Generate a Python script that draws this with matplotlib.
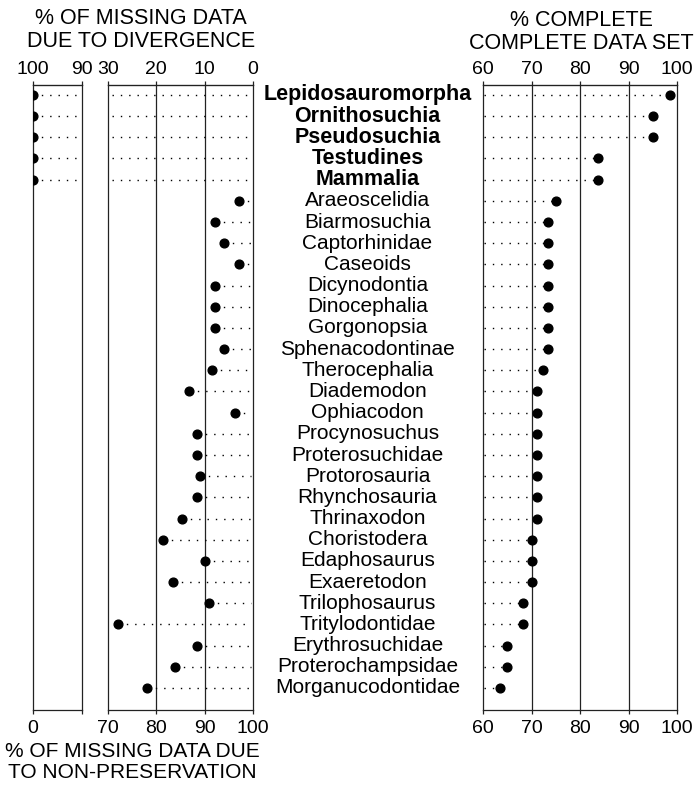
import numpy as np
import matplotlib
matplotlib.use('Agg')
import matplotlib.pyplot as plt
from matplotlib.transforms import blended_transform_factory

plt.rcParams['font.family'] = ['Liberation Sans', 'DejaVu Sans']

taxa = ['Lepidosauromorpha', 'Ornithosuchia', 'Pseudosuchia', 'Testudines', 'Mammalia',
        'Araeoscelidia', 'Biarmosuchia', 'Captorhinidae', 'Caseoids', 'Dicynodontia',
        'Dinocephalia', 'Gorgonopsia', 'Sphenacodontinae', 'Therocephalia', 'Diademodon',
        'Ophiacodon', 'Procynosuchus', 'Proterosuchidae', 'Protorosauria', 'Rhynchosauria',
        'Thrinaxodon', 'Choristodera', 'Edaphosaurus', 'Exaeretodon', 'Trilophosaurus',
        'Tritylodontidae', 'Erythrosuchidae', 'Proterochampsidae', 'Morganucodontidae']
n_bold = 5

# % missing due to divergence for the living groups (left panel)
divergence = [100, 100, 100, 100, 100]

# % missing due to non-preservation for the fossil groups (middle panel)
nonpres = [97.0, 92.1, 94.0, 97.0, 92.1, 92.1, 92.1, 94.1, 91.5, 86.8, 96.3, 88.4,
           88.4, 89.0, 88.4, 85.3, 81.4, 90.1, 83.4, 90.9, 72.1, 88.5, 83.8, 78.1]

# % complete relative to complete data set (right panel)
complete = [98.5, 95.1, 95.1, 83.7, 83.7, 75.0, 73.4, 73.4, 73.4, 73.4, 73.4, 73.4,
            73.4, 72.3, 71.2, 71.2, 71.2, 71.2, 71.2, 71.2, 71.2, 70.1, 70.1, 70.1,
            68.2, 68.2, 64.9, 64.9, 63.6]

W, H = 695, 785
fig = plt.figure(figsize=(W / 100, H / 100), dpi=100)

def rect(x0, x1, ytop=85, ybot=710):
    return [x0 / W, (H - ybot) / H, (x1 - x0) / W, (ybot - ytop) / H]

axL = fig.add_axes(rect(33, 82))
axM = fig.add_axes(rect(108, 253))
axR = fig.add_axes(rect(483, 677))

rows = np.arange(len(taxa))
ylim = (len(taxa) - 1 + 1.04, -0.47)
dots = dict(color='black', lw=1.0, linestyle=(0, (1, 5)))
mk = dict(marker='o', ms=6.3, color='black', ls='none', zorder=5)
tick_kw = dict(labelsize=14, length=3, width=0.9, color='#222222')

for ax in (axL, axM, axR):
    ax.set_ylim(*ylim)
    ax.set_yticks([])
    for s in ax.spines.values():
        s.set_linewidth(0.9)
        s.set_color('#222222')
    ax.tick_params(axis='x', which='both', pad=4, **tick_kw)

# left panel: divergence 100..90 on top, 0 on bottom
axL.set_xlim(100, 90)
axL.set_xticks([100, 90])
axL.set_xticklabels(['0', ''])
axT = axL.secondary_xaxis('top')
axT.set_xticks([100, 90])
axT.set_xticklabels(['100', '90'])
axT.tick_params(pad=2, **tick_kw)
for i in range(n_bold):
    axL.plot([divergence[i], 91], [i, i], **dots)
axL.plot(divergence, rows[:n_bold], **mk)

# middle panel: non-preservation 70..100 on bottom, 30..0 on top
axM.set_xlim(70, 100)
axM.set_xticks([70, 80, 90, 100])
topM = axM.secondary_xaxis('top', functions=(lambda v: 100 - v, lambda v: 100 - v))
topM.set_xticks([30, 20, 10, 0])
topM.tick_params(pad=2, **tick_kw)
for g in (80, 90):
    axM.axvline(g, color='#222222', lw=0.9)
for i in range(n_bold):
    axM.plot([70.8, 99.5], [i, i], **dots)
for j, v in enumerate(nonpres):
    r = j + n_bold
    axM.plot([v, 99.5], [r, r], **dots)
axM.plot(nonpres, rows[n_bold:], **mk)

# right panel: completeness, same ticks top and bottom
axR.set_xlim(60, 100)
axR.set_xticks([60, 70, 80, 90, 100])
topR = axR.secondary_xaxis('top')
topR.set_xticks([60, 70, 80, 90, 100])
topR.tick_params(pad=2, **tick_kw)
for g in (70, 80, 90):
    axR.axvline(g, color='#222222', lw=0.9)
for r, v in enumerate(complete):
    axR.plot([60.3, v], [r, r], **dots)
axR.plot(complete, rows, **mk)

# taxon names
tr = blended_transform_factory(fig.transFigure, axM.transData)
for r, name in enumerate(taxa):
    bold = r < n_bold
    axM.text(367.5 / W, r, name, transform=tr, ha='center', va='center',
             fontsize=15.5 if bold else 15, fontweight='bold' if bold else 'normal',
             clip_on=False)

fig.text(141 / W, 1 - 30 / H, '% OF MISSING DATA\nDUE TO DIVERGENCE',
         ha='center', va='center', fontsize=15.5, linespacing=1.12)
fig.text(581 / W, 1 - 32 / H, '% COMPLETE\nCOMPLETE DATA SET',
         ha='center', va='center', fontsize=15.5, linespacing=1.12)
fig.text(132 / W, 1 - 762 / H, '% OF MISSING DATA DUE\nTO NON-PRESERVATION',
         ha='center', va='center', fontsize=15, linespacing=1.15)

fig.savefig('out.png', dpi=100, facecolor='white')
